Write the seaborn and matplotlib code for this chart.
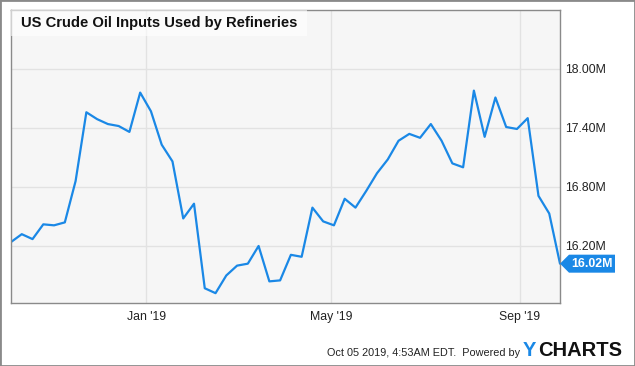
import matplotlib
matplotlib.use("Agg")
import matplotlib.pyplot as plt
import matplotlib.dates as mdates
import matplotlib.patches as mpatches
import matplotlib.transforms as mtransforms
import pandas as pd
import seaborn as sns

# weekly crude oil inputs, millions of barrels per day
weeks = pd.date_range("2018-10-05", "2019-09-27", freq="7D")
inputs = [16.24, 16.32, 16.27, 16.42, 16.41, 16.44, 16.86, 17.56, 17.49, 17.44,
          17.42, 17.36, 17.76, 17.57, 17.23, 17.06, 16.48, 16.63, 15.77, 15.72,
          15.90, 16.00, 16.02, 16.20, 15.84, 15.85, 16.11, 16.09, 16.59, 16.45,
          16.41, 16.68, 16.59, 16.76, 16.94, 17.08, 17.27, 17.34, 17.30, 17.44,
          17.27, 17.04, 17.00, 17.78, 17.31, 17.71, 17.41, 17.39, 17.50, 16.71,
          16.53, 16.02]
y_ticks = [16.20, 16.80, 17.40, 18.00]
x_ticks = pd.to_datetime(["2019-01-01", "2019-05-01", "2019-09-01"])

df = pd.DataFrame({"week": weeks, "inputs": inputs})

blue = "#1a88e6"
frame = "#8a8a8a"

sns.set_style("white", {"axes.facecolor": "#f6f6f6"})
plt.rcParams["font.family"] = ["Liberation Sans", "DejaVu Sans"]

fig = plt.figure(figsize=(6.35, 3.66), dpi=100)
ax = fig.add_axes([11 / 635, 63 / 366, 549 / 635, 293 / 366])

sns.lineplot(data=df, x="week", y="inputs", color=blue, linewidth=1.6, ax=ax)

ax.set_xlim(weeks[0], weeks[-1])
ax.set_ylim(15.62, 18.6)
ax.set_xlabel("")
ax.set_ylabel("")

ax.set_xticks(x_ticks)
ax.xaxis.set_major_formatter(mdates.DateFormatter("%b '%y"))
ax.set_yticks(y_ticks)
ax.set_yticklabels([f"{v:.2f}M" for v in y_ticks])
ax.yaxis.tick_right()
ax.tick_params(axis="both", length=0, labelsize=8.8, colors="#222222")
ax.tick_params(axis="x", pad=6)
ax.tick_params(axis="y", pad=4)
ax.grid(True, color="#e2e2e2", linewidth=1)
ax.set_axisbelow(True)
for s in ax.spines.values():
    s.set_visible(True)
    s.set_color(frame)
    s.set_linewidth(1)

# title box
fig.patches.append(mpatches.Rectangle((11 / 635, 1 - 36 / 366), 296 / 635, 26 / 366,
                                      transform=fig.transFigure, facecolor="white",
                                      alpha=0.6, edgecolor="none", zorder=3))
fig.text(21 / 635, 1 - 23 / 366, "US Crude Oil Inputs Used by Refineries",
         fontsize=10.6, fontweight="bold", va="center", ha="left", color="#111111", zorder=4)

# last value marker
fig.canvas.draw()
px, py = ax.transData.transform((mdates.date2num(weeks[-1]), inputs[-1]))
poly = mpatches.Polygon([(px, py), (px + 9, py + 9), (px + 55, py + 9),
                         (px + 55, py - 9), (px + 9, py - 9)], closed=True,
                        transform=mtransforms.IdentityTransform(), facecolor=blue,
                        edgecolor="none", clip_on=False, zorder=5)
fig.patches.append(poly)
fig.text((px + 32) / 635, py / 366, f"{inputs[-1]:.2f}M", color="white", fontsize=8.9,
         fontweight="bold", ha="center", va="center", zorder=6)

# footer
fig.text(327 / 635, 1 - 353 / 366, "Oct 05 2019, 4:53AM EDT.  Powered by",
         fontsize=7.85, ha="left", va="center", color="#222222")
fig.text(523 / 635, 1 - 350 / 366, "Y", fontsize=14.5, fontweight="heavy",
         color=blue, ha="left", va="center")
fig.text(538 / 635, 1 - 350 / 366, "CHARTS", fontsize=14.5, fontweight="heavy",
         color="#111111", ha="left", va="center")

# outer border
fig.patches.append(mpatches.Rectangle((0, 0), 1, 1, transform=fig.transFigure,
                                      fill=False, edgecolor=frame, linewidth=2))

fig.savefig("out.png", dpi=100)
